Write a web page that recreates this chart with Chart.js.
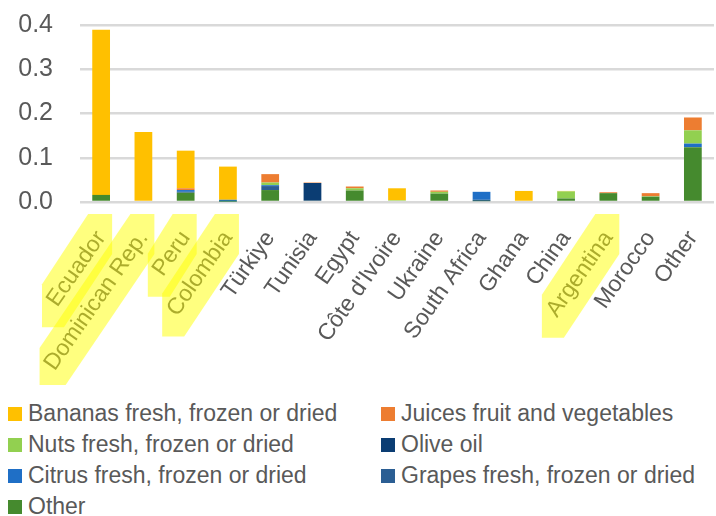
<!DOCTYPE html>
<html>
<head>
<meta charset="utf-8">
<script src="https://cdn.jsdelivr.net/npm/chart.js@4"></script>
<style>
  html, body { margin: 0; padding: 0; background: #fff; }
  body { width: 716px; height: 516px; overflow: hidden; position: relative; font-family: 'Liberation Sans', sans-serif; }
  #wrap { position: absolute; left: 0; top: 0; width: 716px; height: 385px; }
  #legend { position: absolute; left: 8px; top: 398px; display: grid; grid-template-columns: 373px 330px; }
  .item { display: flex; align-items: center; height: 31px; font-size: 23px; color: #595959; white-space: nowrap; }
  .box { width: 14px; height: 14px; margin-right: 6px; flex: none; }
</style>
</head>
<body>
<div id="wrap"><canvas id="chart"></canvas></div>
<div id="legend"></div>
<script>
// categorie (paesi)
const countries = ['Ecuador', 'Dominican Rep.', 'Peru', 'Colombia', 'Türkiye', 'Tunisia', 'Egypt', "Côte d'Ivoire", 'Ukraine', 'South Africa', 'Ghana', 'China', 'Argentina', 'Morocco', 'Other'];
const highlighted = ['Ecuador', 'Dominican Rep.', 'Peru', 'Colombia', 'Argentina'];
const yTicks = [0, 0.1, 0.2, 0.3, 0.4];

// serie (dal basso verso l'alto)
const otherVals  = [0.016, 0, 0.021, 0.001, 0.027, 0.003, 0.026, 0, 0.019, 0.002, 0, 0.008, 0.020, 0.012, 0.124];
const grapes     = [0, 0, 0.002, 0, 0.009, 0, 0, 0, 0, 0.003, 0, 0, 0, 0, 0];
const citrus     = [0, 0, 0.004, 0.004, 0.002, 0, 0, 0, 0, 0.018, 0, 0, 0, 0, 0.008];
const oliveOil   = [0, 0, 0, 0, 0, 0.040, 0, 0, 0, 0, 0, 0, 0, 0, 0];
const nuts       = [0, 0, 0, 0, 0.006, 0, 0.005, 0.004, 0.004, 0, 0, 0.016, 0, 0.001, 0.030];
const juices     = [0, 0, 0.004, 0, 0.019, 0.001, 0.004, 0, 0.003, 0, 0, 0, 0.002, 0.007, 0.029];
const bananas    = [0.373, 0.158, 0.085, 0.075, 0, 0, 0, 0.027, 0, 0, 0.025, 0.001, 0, 0, 0];

const legendOrder = ['Bananas fresh, frozen or dried', 'Juices fruit and vegetables', 'Nuts fresh, frozen or dried', 'Olive oil', 'Citrus fresh, frozen or dried', 'Grapes fresh, frozen or dried', 'Other'];

const FONT = "'Liberation Sans', sans-serif";
const TEXT = '#595959';
const ROT = 55;
const XPAD = 24;
const XSIZE = 23;

const datasets = [
  { label: 'Other', data: otherVals, backgroundColor: '#458A2E' },
  { label: 'Grapes fresh, frozen or dried', data: grapes, backgroundColor: '#2B5E93' },
  { label: 'Citrus fresh, frozen or dried', data: citrus, backgroundColor: '#1F6FC6' },
  { label: 'Olive oil', data: oliveOil, backgroundColor: '#0B3D73' },
  { label: 'Nuts fresh, frozen or dried', data: nuts, backgroundColor: '#92D050' },
  { label: 'Juices fruit and vegetables', data: juices, backgroundColor: '#ED7D31' },
  { label: 'Bananas fresh, frozen or dried', data: bananas, backgroundColor: '#FFC000' }
];

// evidenziatore giallo sopra le etichette
const highlighter = {
  id: 'highlighter',
  afterDraw(chart) {
    const ctx = chart.ctx;
    const xs = chart.scales.x;
    const a = ROT * Math.PI / 180;
    ctx.save();
    ctx.font = XSIZE + 'px ' + FONT;
    ctx.fillStyle = 'rgba(255,255,0,0.5)';
    countries.forEach((c, i) => {
      if (!highlighted.includes(c)) return;
      const L = ctx.measureText(c).width;
      const rx = xs.getPixelForTick(i), ry = xs.top + XPAD;
      const lx = rx - L * Math.cos(a), ly = ry + L * Math.sin(a);
      ctx.beginPath();
      ctx.moveTo(rx + 11, ry - 12);
      ctx.lineTo(rx + 11, ry + 28);
      ctx.lineTo(lx + 12, ly + 31);
      ctx.lineTo(lx - 10, ly + 31);
      ctx.lineTo(lx - 10, ly - 12);
      ctx.lineTo(rx - 13, ry - 12);
      ctx.closePath();
      ctx.fill();
    });
    ctx.restore();
  }
};

new Chart(document.getElementById('chart'), {
  type: 'bar',
  data: { labels: countries, datasets },
  options: {
    responsive: true,
    maintainAspectRatio: false,
    animation: false,
    layout: { padding: { top: 25, right: 2, left: 0, bottom: 0 } },
    plugins: { legend: { display: false }, tooltip: { enabled: false } },
    datasets: { bar: { categoryPercentage: 1, barPercentage: 0.42 } },
    scales: {
      x: {
        stacked: true,
        grid: { display: false, drawTicks: false },
        border: { display: false },
        ticks: { autoSkip: false, minRotation: ROT, maxRotation: ROT, padding: XPAD, color: TEXT, font: { family: FONT, size: XSIZE } },
        afterFit: s => { s.height = 183; s.paddingLeft = 0; s.paddingRight = 0; }
      },
      y: {
        stacked: true,
        min: 0, max: 0.4,
        afterBuildTicks: s => { s.ticks = yTicks.map(v => ({ value: v })); },
        grid: { color: '#d9d9d9', lineWidth: 2.5, drawTicks: false },
        border: { display: false },
        ticks: { padding: 27, color: TEXT, font: { family: FONT, size: 25 }, callback: v => Number(v).toFixed(1) },
        afterFit: s => { s.width = 80; s.paddingTop = 0; s.paddingBottom = 0; }
      }
    }
  },
  plugins: [highlighter]
});

// legenda HTML a due colonne
const legend = document.getElementById('legend');
legend.innerHTML = legendOrder.map(name => {
  const ds = datasets.find(d => d.label === name);
  return `<div class="item"><span class="box" style="background:${ds.backgroundColor}"></span>${name}</div>`;
}).join('');
</script>
</body>
</html>
